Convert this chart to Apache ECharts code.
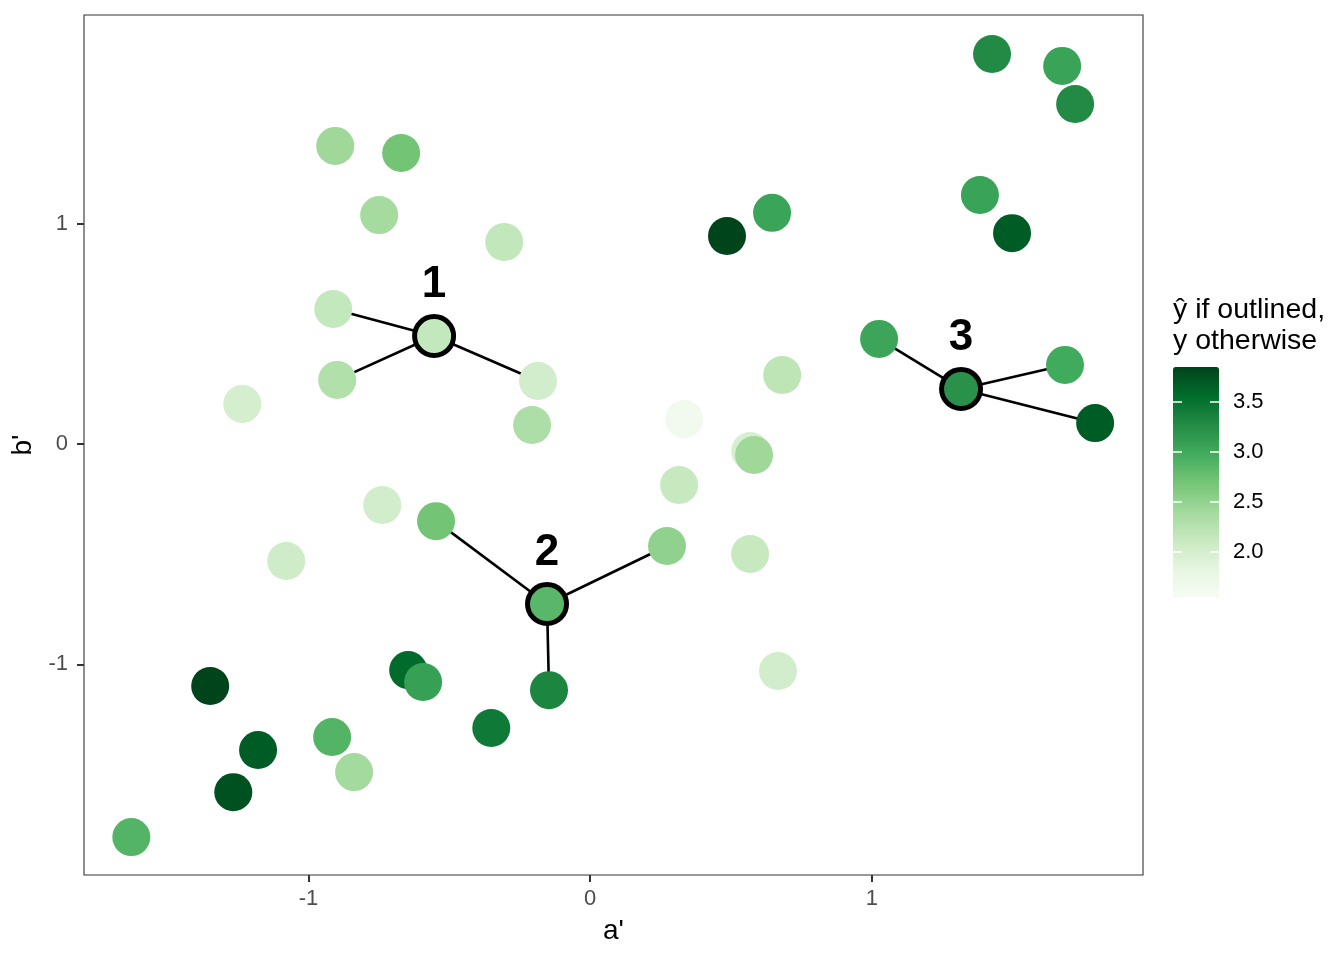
<!DOCTYPE html>
<html>
<head>
<meta charset="utf-8">
<script src="https://cdn.jsdelivr.net/npm/echarts@6/dist/echarts.min.js"></script>
<style>
html,body{margin:0;padding:0;background:#fff;}
#chart{width:1344px;height:960px;}
</style>
</head>
<body>
<div id="chart"></div>
<script>
// regular points: a', b', observed y
const pointA = [1.427,1.676,1.722,1.384,1.498,0.646,0.486,1.026,1.686,1.793,
  0.682,0.334,0.568,0.582,0.316,0.568,0.273,0.667,-0.146,-0.547,
  -0.646,-0.593,-0.351,-0.185,-0.206,-0.912,-0.898,-1.235,-0.305,-0.749,
  -0.905,-0.671,-0.738,-1.079,-1.349,-1.179,-0.916,-0.838,-1.267,-1.629];
const pointB = [1.770,1.716,1.543,1.130,0.957,1.049,0.944,0.477,0.359,0.095,
  0.313,0.113,-0.032,-0.050,-0.186,-0.499,-0.463,-1.030,-1.117,-0.350,
  -1.026,-1.080,-1.289,0.286,0.086,0.613,0.291,0.182,0.917,1.039,
  1.353,1.321,-0.277,-0.531,-1.098,-1.389,-1.330,-1.489,-1.580,-1.784];
const pointY = [3.28,3.06,3.28,3.06,3.68,3.05,3.85,3.04,2.99,3.68,
  2.20,1.63,1.98,2.42,2.13,2.13,2.52,2.03,3.33,2.70,
  3.58,3.09,3.44,2.03,2.32,2.15,2.29,2.00,2.16,2.38,
  2.42,2.70,2.03,2.05,3.85,3.68,2.88,2.40,3.76,2.88];
// outlined query points: a', b', predicted y-hat, label, neighbour indices
const centerA = [-0.554, -0.153, 1.317];
const centerB = [0.490, -0.726, 0.250];
const centerYhat = [2.15, 2.85, 3.22];
const centerLabels = ['1', '2', '3'];
const neighbours = [[25, 26, 23], [19, 16, 18], [7, 8, 9]];
// axes
const xTicks = [-1, 0, 1];
const yTicks = [-1, 0, 1];
const colorTicks = [2.0, 2.5, 3.0, 3.5];
const colorMin = 1.55, colorMax = 3.85;
const greens = ['#f7fcf5','#e5f5e0','#c7e9c0','#a1d99b','#74c476','#41ab5d','#238b45','#006d2c','#00441b'];

const pts = pointA.map((a, i) => [a, pointB[i], pointY[i]]);
const ctr = centerA.map((a, i) => [a, centerB[i], centerYhat[i], centerLabels[i]]);
const segs = [];
neighbours.forEach((nb, c) => nb.forEach(j => segs.push({coords: [[centerA[c], centerB[c]], [pointA[j], pointB[j]]]})));

const FONT = '"Liberation Sans", Arial, sans-serif';
const chart = echarts.init(document.getElementById('chart'));
chart.setOption({
  animation: false,
  backgroundColor: '#ffffff',
  textStyle: {fontFamily: FONT},
  grid: [
    {left: 84, top: 15, width: 1059, height: 860, show: true, borderColor: '#333333', borderWidth: 1.1, backgroundColor: 'transparent'},
    {left: 1173, top: 367, width: 46, height: 230, show: false}
  ],
  xAxis: [
    {gridIndex: 0, type: 'value', min: -1.797, max: 1.963,
     name: "a'", nameLocation: 'middle', nameGap: 42,
     nameTextStyle: {fontSize: 28, color: '#000', fontFamily: FONT},
     axisLine: {show: false, onZero: false},
     axisTick: {show: true, length: 7, lineStyle: {color: '#333', width: 2}, customValues: xTicks},
     axisLabel: {fontSize: 22, color: '#4d4d4d', margin: 13, customValues: xTicks, fontFamily: FONT},
     splitLine: {show: false}},
    {gridIndex: 1, type: 'value', show: false, min: 0, max: 1}
  ],
  yAxis: [
    {gridIndex: 0, type: 'value', min: -1.956, max: 1.947,
     name: "b'", nameLocation: 'middle', nameGap: 46, nameRotate: 90,
     nameTextStyle: {fontSize: 28, color: '#000', fontFamily: FONT},
     axisLine: {show: false, onZero: false},
     axisTick: {show: true, length: 7, lineStyle: {color: '#333', width: 2}, customValues: yTicks},
     axisLabel: {fontSize: 22, color: '#4d4d4d', margin: 16, customValues: yTicks, fontFamily: FONT},
     splitLine: {show: false}},
    {gridIndex: 1, type: 'value', min: colorMin, max: colorMax, position: 'right', z: 10,
     axisLine: {show: false, onZero: false},
     axisTick: {show: true, inside: true, length: 9, lineStyle: {color: '#ffffff', width: 1.5}, customValues: colorTicks},
     axisLabel: {fontSize: 22, color: '#000', margin: 14, customValues: colorTicks, fontFamily: FONT,
                 formatter: v => v.toFixed(1)},
     splitLine: {show: false}},
    {gridIndex: 1, type: 'value', min: colorMin, max: colorMax, position: 'left', z: 10,
     axisLine: {show: false, onZero: false},
     axisTick: {show: true, inside: true, length: 9, lineStyle: {color: '#ffffff', width: 1.5}, customValues: colorTicks},
     axisLabel: {show: false},
     splitLine: {show: false}}
  ],
  visualMap: [{
    type: 'continuous', min: colorMin, max: colorMax, dimension: 2, seriesIndex: [1, 2],
    orient: 'vertical', left: 1173, top: 367, itemWidth: 46, itemHeight: 230, padding: 0, z: 2,
    calculable: false, hoverLink: false, text: null, showLabel: false,
    inRange: {color: greens}
  }],
  graphic: [
    {type: 'text', left: 1173, top: 295, style: {text: 'ŷ if outlined,\ny otherwise', fontSize: 28.5, lineHeight: 31, fill: '#000', fontFamily: FONT}}
  ],
  series: [
    {type: 'lines', coordinateSystem: 'cartesian2d', xAxisIndex: 0, yAxisIndex: 0, z: 1, silent: true,
     lineStyle: {color: '#000', width: 2.6, opacity: 1}, data: segs},
    {type: 'scatter', xAxisIndex: 0, yAxisIndex: 0, z: 2, symbol: 'circle', symbolSize: 38, silent: true,
     itemStyle: {opacity: 1}, data: pts},
    {type: 'scatter', xAxisIndex: 0, yAxisIndex: 0, z: 3, symbol: 'circle', symbolSize: 39, silent: true,
     itemStyle: {borderColor: '#000', borderWidth: 5, opacity: 1},
     label: {show: true, position: 'inside', offset: [0, -51], formatter: p => p.value[3],
             fontSize: 44, fontWeight: 'bold', color: '#000', fontFamily: FONT},
     data: ctr}
  ]
});
</script>
</body>
</html>
